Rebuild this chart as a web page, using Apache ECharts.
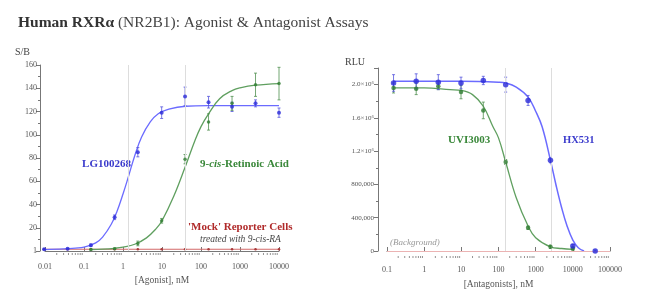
<!DOCTYPE html>
<html>
<head>
<meta charset="utf-8">
<script src="https://cdn.jsdelivr.net/npm/echarts@6/dist/echarts.min.js"></script>
<style>html,body{margin:0;padding:0;background:#fff;}#c{width:650px;height:305px;}</style>
</head>
<body>
<div id="c"></div>
<script>
// ---------- Agonist assay (left) ----------
const agonistConc = [0.0095, 0.038, 0.15, 0.61, 2.4, 9.8, 39, 156, 625, 2500, 10000];
const lgVals = [1.5, 2, 5, 29, 85, 119, 133, 128, 124, 127, 119];
const lgErr  = [0.5, 0.5, 1, 2, 4, 5, 8, 5, 4, 3, 4];
const raConc = [0.15, 0.61, 2.4, 9.8, 39, 156, 625, 2500, 10000];
const raVals = [1.3, 2, 6.5, 26, 79, 111, 127, 143, 144];
const raErr  = [0.5, 0.5, 2, 2, 4, 7, 6, 10, 14];
const mockVals = [1.5, 1.5, 1.5, 1.5, 1.5, 1.5, 1.5, 1.5, 1.5, 1.5, 1.5];
// fitted curves
const lgCurveX = [0.0095, 0.03, 0.06, 0.1, 0.2, 0.3, 0.5, 0.7, 1.0, 1.35, 2, 3, 5, 8, 15, 40, 150, 10000];
const lgCurveY = [1.2, 1.8, 2.5, 3.3, 7, 12, 23, 34, 49, 63, 82, 98, 111, 118, 122, 124.5, 125, 125];
const raCurveX = [0.15, 0.3, 0.6, 1, 2, 4, 7, 10, 20, 39, 70, 100, 156, 300, 625, 1000, 2500, 10000];
const raCurveY = [1.3, 1.6, 2.3, 3.3, 5.8, 11.3, 19, 26, 47, 72, 95, 107, 118, 131, 138, 140.3, 142.6, 144];
const agonistEC50 = [1.35, 39];
const leftXTickLabels = ['0.01', '0.1', '1', '10', '100', '1000', '10000'];

// ---------- Antagonist assay (right) ----------
const antConc = [0.15, 0.61, 2.4, 9.8, 39, 156, 625, 2500, 10000, 40000];
const hxVals = [2.02e6, 2.04e6, 2.03e6, 2.02e6, 2.05e6, 2.0e6, 1.81e6, 1.09e6, 0.06e6, 0.0];
const hxErr  = [0.1e6, 0.09e6, 0.09e6, 0.07e6, 0.05e6, 0.09e6, 0.06e6, 0.03e6, 0.02e6, 0.01e6];
const uviConc = [0.15, 0.61, 2.4, 9.8, 39, 156, 625, 2500, 10000];
const uviVals = [1.96e6, 1.95e6, 1.98e6, 1.91e6, 1.69e6, 1.07e6, 0.28e6, 0.05e6, 0.03e6];
const uviErr  = [0.06e6, 0.07e6, 0.04e6, 0.08e6, 0.1e6, 0.03e6, 0.02e6, 0.02e6, 0.02e6];
const hxCurveX = [0.15, 10, 100, 156, 300, 625, 1000, 1500, 2500, 3500, 5000, 7000, 10000, 14000, 20000];
const hxCurveY = [2.04e6, 2.04e6, 2.03e6, 2.02e6, 1.97e6, 1.85e6, 1.68e6, 1.49e6, 1.09e6, 0.80e6, 0.52e6, 0.30e6, 0.13e6, 0.04e6, 0.0];
const uviCurveX = [0.15, 1, 5, 10, 20, 39, 70, 100, 156, 300, 625, 1000, 2500, 5000, 10000];
const uviCurveY = [1.96e6, 1.96e6, 1.94e6, 1.93e6, 1.88e6, 1.74e6, 1.50e6, 1.36e6, 1.07e6, 0.64e6, 0.30e6, 0.16e6, 0.05e6, 0.03e6, 0.02e6];
const antagonistIC50 = [155, 2650];
const rightXTickLabels = ['0.1', '1', '10', '100', '1000', '10000', '100000'];
const rightYTickValues = [0, 400000, 800000, 1200000, 1600000, 2000000];
const rightYTickLabels = ['0', '400,000', '800,000', '1.2×10⁶', '1.6×10⁶', '2.0×10⁶'];

const SERIF = "'Liberation Serif','Times New Roman',serif";
const blueLine = '#6b6bff', bluePt = '#2a2ad8', blueLabel = '#3b3bcc';
const greenLine = '#5f9f5f', greenPt = '#2f7d32', greenLabel = '#3a883a';
const redLabel = '#b02a2a', redLine = '#d46a6a';

const zip = (xs, ys) => xs.map((x, i) => [x, ys[i]]);
const zip3 = (xs, ys, es) => xs.map((x, i) => [x, ys[i], es[i]]);

function minorLogTicks(lo, hi) {
  const out = [];
  for (let k = lo; k < hi; k++) for (let m = 2; m <= 9; m++) out.push([m * Math.pow(10, k), 0]);
  return out;
}

function errRender(params, api) {
  const x = api.value(0), y = api.value(1), e = api.value(2);
  const hi = api.coord([x, y + e]), lo = api.coord([x, y - e]);
  const c = api.visual('color'), w = 1.5;
  const st = {stroke: c, lineWidth: 0.8};
  return {type: 'group', children: [
    {type: 'line', shape: {x1: hi[0], y1: hi[1], x2: lo[0], y2: lo[1]}, style: st},
    {type: 'line', shape: {x1: hi[0] - w, y1: hi[1], x2: hi[0] + w, y2: hi[1]}, style: st},
    {type: 'line', shape: {x1: lo[0] - w, y1: lo[1], x2: lo[0] + w, y2: lo[1]}, style: st}
  ]};
}
function tickRender(offset) {
  return function (params, api) {
    const p = api.coord([api.value(0), api.value(1)]);
    return {type: 'line', shape: {x1: p[0], y1: p[1] + offset, x2: p[0], y2: p[1] + offset - 2},
      style: {stroke: '#777', lineWidth: 0.8}};
  };
}
function logLabel(labels, minExp) {
  return v => { const i = Math.round(Math.log10(v)) - minExp; return labels[i] !== undefined ? labels[i] : ''; };
}

const axisCommon = {
  axisLine: {show: true, lineStyle: {color: '#777', width: 1}},
  axisLabel: {color: '#555', fontSize: 8, fontFamily: SERIF},
  splitLine: {show: false},
  nameTextStyle: {color: '#555', fontSize: 9.5, fontFamily: SERIF}
};

const chart = echarts.init(document.getElementById('c'), null, {renderer: 'canvas'});
chart.setOption({
  animation: false,
  backgroundColor: '#fff',
  title: {
    left: 13, top: 10,
    text: '{b|Human RXRα} (NR2B1): Agonist & Antagonist Assays',
    textStyle: {fontFamily: SERIF, fontSize: 15.5, fontWeight: 'normal', color: '#444',
      rich: {b: {fontFamily: SERIF, fontSize: 15.5, fontWeight: 'bold', color: '#333'}}}
  },
  grid: [
    {left: 45, top: 65, width: 234, height: 186},
    {left: 387, top: 68, width: 223, height: 183}
  ],
  xAxis: [
    Object.assign({}, axisCommon, {
      type: 'log', logBase: 10, gridIndex: 0, min: 0.01, max: 10000, offset: 4,
      axisTick: {show: true, inside: true, length: 4, lineStyle: {color: '#777'}},
      axisLabel: Object.assign({}, axisCommon.axisLabel, {margin: 8, formatter: logLabel(leftXTickLabels, -2)}),
      name: '[Agonist], nM', nameLocation: 'middle', nameGap: 20
    }),
    Object.assign({}, axisCommon, {
      type: 'log', logBase: 10, gridIndex: 1, min: 0.1, max: 100000, offset: 7,
      axisTick: {show: true, inside: true, length: 4, lineStyle: {color: '#777'}},
      axisLabel: Object.assign({}, axisCommon.axisLabel, {margin: 8, formatter: logLabel(rightXTickLabels, -1)}),
      name: '[Antagonists], nM', nameLocation: 'middle', nameGap: 21
    })
  ],
  yAxis: [
    Object.assign({}, axisCommon, {
      type: 'value', gridIndex: 0, min: 0, max: 160, interval: 20, offset: 5,
      axisTick: {show: true, length: 4, lineStyle: {color: '#777'}},
      minorTick: {show: true, splitNumber: 2, length: 2, lineStyle: {color: '#777'}},
      axisLabel: Object.assign({}, axisCommon.axisLabel, {margin: 3, formatter: v => v === 0 ? '1' : String(v)})
    }),
    Object.assign({}, axisCommon, {
      type: 'value', gridIndex: 1, min: 0, max: 2200000, interval: 400000, offset: 9,
      axisTick: {show: true, length: 4, lineStyle: {color: '#777'}},
      minorTick: {show: true, splitNumber: 2, length: 2, lineStyle: {color: '#777'}},
      axisLabel: Object.assign({}, axisCommon.axisLabel, {margin: 4, fontSize: 7,
        formatter: v => { const i = rightYTickValues.indexOf(v); return i >= 0 ? rightYTickLabels[i] : ''; }})
    })
  ],
  graphic: [
    {type: 'text', style: {x: 15, y: 52, text: 'S/B', fill: '#444', font: '10px ' + SERIF, verticalAlign: 'middle'}},
    {type: 'text', style: {x: 345, y: 62, text: 'RLU', fill: '#444', font: '10px ' + SERIF, verticalAlign: 'middle'}},
    {type: 'text', style: {x: 131, y: 164, text: 'LG100268', fill: blueLabel, font: 'bold 11px ' + SERIF, align: 'right', verticalAlign: 'middle'}},
    {type: 'text', style: {x: 200, y: 164, text: '{b|9-}{i|cis}{b|-Retinoic Acid}', verticalAlign: 'middle',
      rich: {b: {fill: greenLabel, fontFamily: SERIF, fontSize: 11, fontWeight: 'bold'},
             i: {fill: greenLabel, fontFamily: SERIF, fontSize: 11, fontWeight: 'bold', fontStyle: 'italic'}}}},
    {type: 'text', style: {x: 188, y: 227, text: "'Mock' Reporter Cells", fill: redLabel, font: 'bold 11px ' + SERIF, verticalAlign: 'middle'}},
    {type: 'text', style: {x: 200, y: 239.5, text: 'treated with 9-cis-RA', fill: '#444', font: 'italic 9.5px ' + SERIF, verticalAlign: 'middle'}},
    {type: 'text', style: {x: 448, y: 140, text: 'UVI3003', fill: greenLabel, font: 'bold 11px ' + SERIF, verticalAlign: 'middle'}},
    {type: 'text', style: {x: 563, y: 140, text: 'HX531', fill: blueLabel, font: 'bold 10.5px ' + SERIF, verticalAlign: 'middle'}},
    {type: 'text', style: {x: 390, y: 243, text: '(Background)', fill: '#999', font: 'italic 9px ' + SERIF, verticalAlign: 'middle'}}
  ],
  series: [
    // minor log ticks
    {type: 'custom', xAxisIndex: 0, yAxisIndex: 0, data: minorLogTicks(-2, 4), renderItem: tickRender(4), clip: false, silent: true},
    {type: 'custom', xAxisIndex: 1, yAxisIndex: 1, data: minorLogTicks(-1, 5), renderItem: tickRender(7), clip: false, silent: true},
    // EC50 lines & mock line (left)
    {type: 'line', xAxisIndex: 0, yAxisIndex: 0, data: zip(agonistConc, mockVals), symbol: 'circle', symbolSize: 2.5,
      lineStyle: {color: redLine, width: 1.2}, itemStyle: {color: '#a83a3a'}, clip: false, z: 2,
      markLine: {silent: true, symbol: 'none', label: {show: false}, lineStyle: {color: '#dddddd', width: 1, type: 'solid'},
        data: agonistEC50.map(v => ({xAxis: v}))}},
    {type: 'line', xAxisIndex: 0, yAxisIndex: 0, data: zip(lgCurveX, lgCurveY), smooth: 0.4, showSymbol: false,
      lineStyle: {color: blueLine, width: 1.3}, clip: false, z: 3},
    {type: 'line', xAxisIndex: 0, yAxisIndex: 0, data: zip(raCurveX, raCurveY), smooth: 0.4, showSymbol: false,
      lineStyle: {color: greenLine, width: 1.3}, clip: false, z: 3},
    {type: 'custom', xAxisIndex: 0, yAxisIndex: 0, data: zip3(agonistConc, lgVals, lgErr), renderItem: errRender,
      itemStyle: {color: '#5555dd'}, clip: false, z: 4},
    {type: 'custom', xAxisIndex: 0, yAxisIndex: 0, data: zip3(raConc, raVals, raErr), renderItem: errRender,
      itemStyle: {color: '#4f8f4f'}, clip: false, z: 4},
    {type: 'scatter', xAxisIndex: 0, yAxisIndex: 0, data: zip(agonistConc, lgVals), symbol: 'circle', symbolSize: 4,
      itemStyle: {color: bluePt}, clip: false, z: 5},
    {type: 'scatter', xAxisIndex: 0, yAxisIndex: 0, data: zip(raConc, raVals), symbol: 'circle', symbolSize: 3.5,
      itemStyle: {color: greenPt}, clip: false, z: 5},
    // right chart
    {type: 'line', xAxisIndex: 1, yAxisIndex: 1, data: zip(uviCurveX, uviCurveY), smooth: 0.4, showSymbol: false,
      lineStyle: {color: greenLine, width: 1.3}, clip: false, z: 3,
      markLine: {silent: true, symbol: 'none', label: {show: false}, lineStyle: {color: '#dddddd', width: 1, type: 'solid'},
        data: antagonistIC50.map(v => ({xAxis: v})).concat([{yAxis: 0, lineStyle: {color: '#ebb3b3', width: 1}}])}},
    {type: 'line', xAxisIndex: 1, yAxisIndex: 1, data: zip(hxCurveX, hxCurveY), smooth: 0.4, showSymbol: false,
      lineStyle: {color: blueLine, width: 1.5}, clip: false, z: 3},
    {type: 'custom', xAxisIndex: 1, yAxisIndex: 1, data: zip3(uviConc, uviVals, uviErr), renderItem: errRender,
      itemStyle: {color: '#4f8f4f'}, clip: false, z: 4},
    {type: 'custom', xAxisIndex: 1, yAxisIndex: 1, data: zip3(antConc, hxVals, hxErr), renderItem: errRender,
      itemStyle: {color: '#5555dd'}, clip: false, z: 4},
    {type: 'scatter', xAxisIndex: 1, yAxisIndex: 1, data: zip(uviConc, uviVals), symbol: 'circle', symbolSize: 4.5,
      itemStyle: {color: greenPt}, clip: false, z: 5},
    {type: 'scatter', xAxisIndex: 1, yAxisIndex: 1, data: zip(antConc, hxVals), symbol: 'circle', symbolSize: 5.5,
      itemStyle: {color: bluePt}, clip: false, z: 5}
  ]
});
</script>
</body>
</html>
